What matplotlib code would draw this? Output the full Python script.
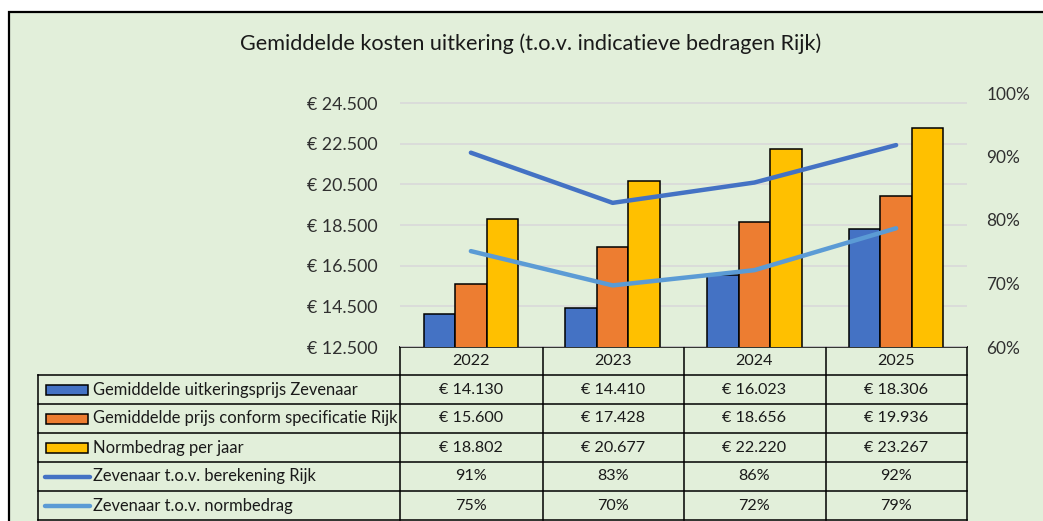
import matplotlib
matplotlib.use("Agg")
import matplotlib.pyplot as plt
from matplotlib.patches import Rectangle
from matplotlib.transforms import blended_transform_factory

plt.rcParams['font.family'] = ['Lato', 'DejaVu Sans']

# data
years = ['2022', '2023', '2024', '2025']
uitkering_zevenaar = [14130, 14410, 16023, 18306]
prijs_rijk = [15600, 17428, 18656, 19936]
normbedrag = [18802, 20677, 22220, 23267]
tov_rijk = [0.906, 0.827, 0.859, 0.918]
tov_norm = [0.751, 0.697, 0.721, 0.787]

bar_series = [
    ('Gemiddelde uitkeringsprijs Zevenaar', uitkering_zevenaar, '#4472C4'),
    ('Gemiddelde prijs conform specificatie Rijk', prijs_rijk, '#ED7D31'),
    ('Normbedrag per jaar', normbedrag, '#FFC000'),
]
line_series = [
    ('Zevenaar t.o.v. berekening Rijk', tov_rijk, '#4472C4'),
    ('Zevenaar t.o.v. normbedrag', tov_norm, '#5B9BD5'),
]

y_ticks = [12500, 14500, 16500, 18500, 20500, 22500, 24500]
pct_ticks = [0.6, 0.7, 0.8, 0.9, 1.0]


def euro(v):
    return '€ ' + f'{v:,.0f}'.replace(',', '.')


W, H = 1043, 521
fig = plt.figure(figsize=(W / 100, H / 100), dpi=100, facecolor='white')

# overlay in pixel coordinates (frame, table, legend keys)
ov = fig.add_axes([0, 0, 1, 1])
ov.set_xlim(0, W)
ov.set_ylim(H, 0)
ov.axis('off')
ov.add_patch(Rectangle((9, 12), W + 20, H + 20, facecolor='#E2EFDA',
                       edgecolor='black', linewidth=1.6))

# main plot area: x 400..967, y 93..347 px
left, right, top, bottom = 400, 967, 93, 347
ax = fig.add_axes([left / W, 1 - bottom / H, (right - left) / W, (bottom - top) / H])
ax.patch.set_visible(False)

x = list(range(len(years)))
bw = 0.222
for i, (name, vals, col) in enumerate(bar_series):
    ax.bar([xi + (i - 1) * bw for xi in x], vals, width=bw, color=col,
           edgecolor='black', linewidth=1.1, zorder=3)
ax.set_xlim(-0.5, len(years) - 0.5)
ax.set_ylim(12500, 25000)
ax.set_yticks(y_ticks)
ax.set_yticklabels([euro(v) for v in y_ticks])
ax.set_xticks([])
ax.yaxis.grid(True, color='#D9D9D9', linewidth=1.2, zorder=0)
ax.set_axisbelow(True)
ax.tick_params(axis='y', length=0, pad=16, labelsize=12.8, labelcolor='#303030')
for s in ax.spines.values():
    s.set_visible(False)

ax2 = ax.twinx()
for name, vals, col in line_series:
    ax2.plot(x, vals, color=col, linewidth=3.2, solid_capstyle='round')
ax2.set_ylim(0.6, 1.0)
ax2.set_yticks(pct_ticks)
ax2.set_yticklabels([f'{v:.0%}' for v in pct_ticks])
ax2.tick_params(axis='y', length=0, pad=14, labelsize=12.4, labelcolor='#303030')
for s in ax2.spines.values():
    s.set_visible(False)

# title
ov.text(531, 44, 'Gemiddelde kosten uitkering (t.o.v. indicatieve bedragen Rijk)',
        ha='center', va='center', fontsize=15.6, color='#1a1a1a')

# data table
lw_t = 1.1
rows_y = [347, 375, 404, 433, 462, 491, 520]
col_x = [400, 543, 684, 826, 967]
leg_left = 38
ov.plot([left, right], [rows_y[0], rows_y[0]], color='black', lw=lw_t)
for ry in rows_y[1:]:
    ov.plot([leg_left, right], [ry, ry], color='black', lw=lw_t)
for cx in col_x:
    ov.plot([cx, cx], [rows_y[0], rows_y[-1]], color='black', lw=lw_t)
ov.plot([leg_left, leg_left], [rows_y[1], rows_y[-1]], color='black', lw=lw_t)

tr = blended_transform_factory(ax.transData, ov.transData)
txt_kw = dict(ha='center', va='center', fontsize=11.6, color='#1a1a1a', transform=tr)
for xi, yr in zip(x, years):
    ov.text(xi, (rows_y[0] + rows_y[1]) / 2, yr, **txt_kw)

row_entries = [(n, [euro(v) for v in vals], c, 'bar') for n, vals, c in bar_series]
row_entries += [(n, [f'{v:.0%}' for v in vals], c, 'line') for n, vals, c in line_series]
for r, (name, labels, col, kind) in enumerate(row_entries):
    yc = (rows_y[r + 1] + rows_y[r + 2]) / 2
    if kind == 'bar':
        ov.add_patch(Rectangle((46, yc - 5), 42, 10, facecolor=col,
                               edgecolor='black', linewidth=1.1))
    else:
        ov.plot([45, 90], [yc, yc], color=col, lw=3.2, solid_capstyle='round')
    ov.text(93, yc, name, ha='left', va='center', fontsize=11.9, color='#1a1a1a')
    for xi, lab in zip(x, labels):
        ov.text(xi, yc, lab, **txt_kw)

fig.savefig('out.png', dpi=100, facecolor='white')
